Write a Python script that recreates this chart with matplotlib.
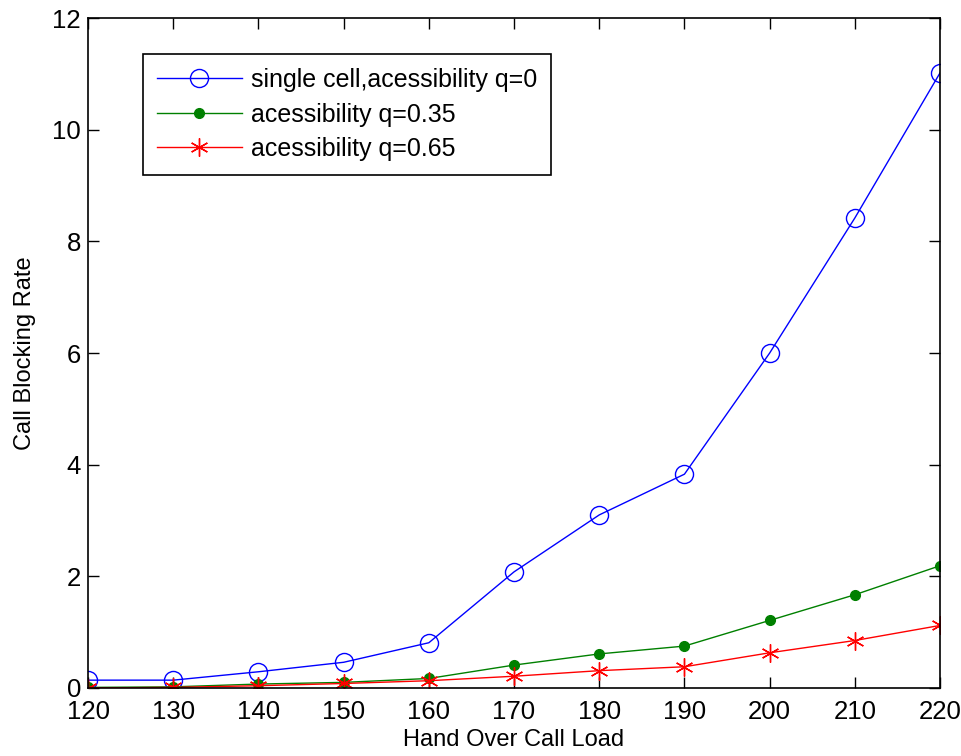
import matplotlib.pyplot as plt

plt.rcParams['font.family'] = ['Liberation Sans', 'DejaVu Sans']

load = [120, 130, 140, 150, 160, 170, 180, 190, 200, 210, 220]
q0 = [0.14, 0.14, 0.29, 0.46, 0.81, 2.08, 3.10, 3.83, 6.00, 8.42, 11.02]
q035 = [0.01, 0.02, 0.07, 0.10, 0.17, 0.41, 0.61, 0.75, 1.21, 1.67, 2.19]
q065 = [0.0, 0.01, 0.04, 0.08, 0.13, 0.21, 0.31, 0.38, 0.63, 0.85, 1.12]
labels = ["single cell,acessibility q=0", "acessibility q=0.35", "acessibility q=0.65"]

fig = plt.figure(figsize=(9.61, 7.56), dpi=100)
ax = fig.add_axes([0.0916, 0.090, 0.8866, 0.886])

ax.plot(load, q0, color='blue', lw=1, marker='o', ms=13, mfc='none', mec='blue', label=labels[0])
ax.plot(load, q035, color='green', lw=1, marker='o', ms=7, mfc='green', mec='green', label=labels[1])
ax.plot(load, q065, color='red', lw=1, marker=(6, 2, 0), ms=13, mec='red', label=labels[2])

ax.set_xlim(120, 220)
ax.set_ylim(0, 12)
ax.set_xticks(load)
ax.set_yticks(range(0, 13, 2))
ax.tick_params(direction='in', length=8, width=1, labelsize=18.5, top=True, right=True, pad=5)
ax.tick_params(axis='x', pad=9)
for s in ax.spines.values():
    s.set_linewidth(1.2)

ax.set_xlabel("Hand Over Call Load", fontsize=17, labelpad=3)
ax.set_ylabel("Call Blocking Rate", fontsize=17, labelpad=12)

leg = ax.legend(loc='upper left', bbox_to_anchor=(0.0646, 0.946), borderaxespad=0, fontsize=18,
                fancybox=False, framealpha=1, edgecolor='black', handlelength=3.4,
                borderpad=0.55, labelspacing=0.42, handletextpad=0.35)
leg.get_frame().set_linewidth(1.2)

plt.savefig("out.png", dpi=100)
